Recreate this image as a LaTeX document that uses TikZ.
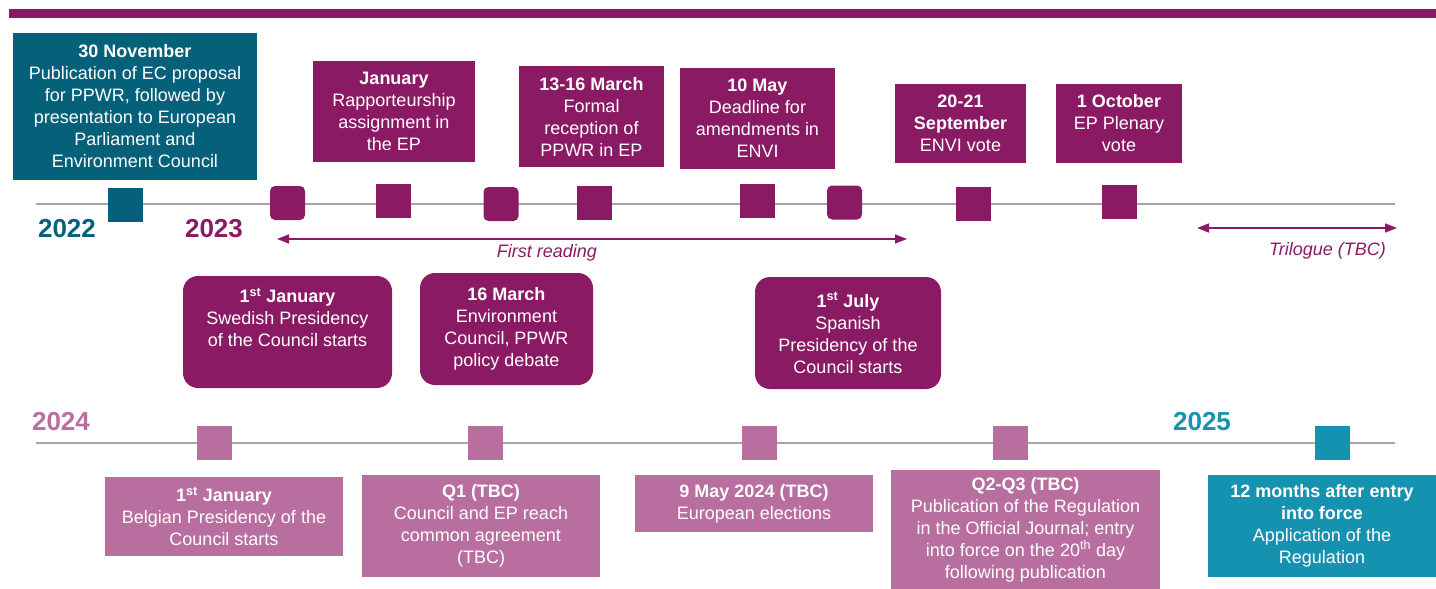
\documentclass[tikz,border=0pt]{standalone}
\usepackage{fontspec}
\setmainfont{Liberation Sans}
\usetikzlibrary{arrows.meta}
\definecolor{tealdark}{HTML}{05607A}
\definecolor{plum}{HTML}{8B1A65}
\definecolor{lplum}{HTML}{B86FA0}
\definecolor{teallight}{HTML}{1592B0}
\definecolor{axis}{HTML}{A6A6A6}
\tikzset{
  box/.style={rectangle, inner sep=0pt, text=white, align=center, font=\fontsize{18}{22}\selectfont},
  rbox/.style={box, rounded corners=15pt},
  mk/.style={rectangle, minimum width=35pt, minimum height=34pt, inner sep=0pt},
  rmk/.style={mk, rounded corners=5pt},
  tline/.style={draw=axis, line width=2pt},
  yr/.style={font=\fontsize{26}{30}\selectfont\bfseries, inner sep=0pt},
  arr/.style={draw=plum, line width=1.6pt, {Triangle[length=12pt,width=9pt]}-{Triangle[length=12pt,width=9pt]}},
  lbl/.style={font=\fontsize{18}{22}\selectfont\itshape, text=plum, inner sep=0pt},
}
\begin{document}
\begin{tikzpicture}[x=1pt,y=-1pt]
\useasboundingbox (0,0) rectangle (1436,589);
% top bar
\fill[plum] (9,9) rectangle (1436,17.5);
% timelines
\coordinate (t1a) at (36,204); \coordinate (t1b) at (1395,204);
\coordinate (t2a) at (36,443); \coordinate (t2b) at (1395,443);
\draw[tline] (t1a) -- (t1b);
\draw[tline] (t2a) -- (t2b);
% years
\node[yr, text=tealdark] (y22) at (67,229) {2022};
\node[yr, text=plum] (y23) at (214,229) {2023};
\node[yr, text=lplum] (y24) at (61,422) {2024};
\node[yr, text=teallight] (y25) at (1202,422) {2025};
% markers line 1
\node[mk, fill=tealdark] (m1) at (125.5,204.5) {};
\node[rmk, fill=plum] (m2) at (287.5,203) {};
\node[mk, fill=plum] (m3) at (393.5,200.5) {};
\node[rmk, fill=plum] (m4) at (501,204) {};
\node[mk, fill=plum] (m5) at (594.5,203) {};
\node[mk, fill=plum] (m6) at (757.5,200.5) {};
\node[rmk, fill=plum] (m7) at (844.5,202.5) {};
\node[mk, fill=plum] (m8) at (973,204) {};
\node[mk, fill=plum] (m9) at (1119.5,202) {};
% markers line 2
\node[mk, fill=lplum] (n1) at (214.5,443) {};
\node[mk, fill=lplum] (n2) at (485.5,443) {};
\node[mk, fill=lplum] (n3) at (759.5,443) {};
\node[mk, fill=lplum] (n4) at (1010.5,443) {};
\node[mk, fill=teallight] (n5) at (1332.5,443) {};
% top boxes
\node[box, fill=tealdark, minimum width=244pt, minimum height=147pt] (b1) at (135,106.5)
  {{\bfseries 30 November}\\Publication of EC proposal\\for PPWR, followed by\\presentation to European\\Parliament and\\Environment Council};
\node[box, fill=plum, minimum width=162pt, minimum height=101pt] (b2) at (394,111.5)
  {{\bfseries January}\\Rapporteurship\\assignment in\\the EP};
\node[box, fill=plum, minimum width=145pt, minimum height=101pt] (b3) at (591.5,116.5)
  {{\bfseries 13-16 March}\\Formal\\reception of\\PPWR in EP};
\node[box, fill=plum, minimum width=155pt, minimum height=101pt] (b4) at (757.5,118.5)
  {{\bfseries 10 May}\\Deadline for\\amendments in\\ENVI};
\node[box, fill=plum, minimum width=131pt, minimum height=79pt] (b5) at (960.5,123.5)
  {{\bfseries 20-21}\\{\bfseries September}\\ENVI vote};
\node[box, fill=plum, minimum width=126pt, minimum height=79pt] (b6) at (1119,123.5)
  {{\bfseries 1 October}\\EP Plenary\\vote};
% arrows
\coordinate (fra) at (277,239); \coordinate (frb) at (907,239);
\draw[arr] (fra) -- (frb);
\node[lbl] (frl) at (547,253) {First reading};
\coordinate (tra) at (1197,228); \coordinate (trb) at (1397,228);
\draw[arr] (tra) -- (trb);
\node[lbl, anchor=east] (trl) at (1386,251) {Trilogue (TBC)};
% middle rounded boxes
\node[rbox, fill=plum, minimum width=209pt, minimum height=112pt] (c1) at (287.5,332)
  {{\bfseries 1\textsuperscript{st} January}\\Swedish Presidency\\of the Council starts\\\strut};
\node[rbox, fill=plum, minimum width=173pt, minimum height=112pt] (c2) at (506.5,329)
  {{\bfseries 16 March}\\Environment\\Council, PPWR\\policy debate};
\node[rbox, fill=plum, minimum width=186pt, minimum height=112pt] (c3) at (848,333)
  {{\bfseries 1\textsuperscript{st} July}\\Spanish\\Presidency of the\\Council starts};
% bottom boxes
\node[box, fill=lplum, minimum width=238pt, minimum height=79pt] (d1) at (224,516.5)
  {{\bfseries 1\textsuperscript{st} January}\\Belgian Presidency of the\\Council starts};
\node[box, fill=lplum, minimum width=238pt, minimum height=102pt] (d2) at (481,526)
  {{\bfseries Q1 (TBC)}\\Council and EP reach\\common agreement\\(TBC)};
\node[box, fill=lplum, minimum width=238pt, minimum height=57pt] (d3) at (754,503.5)
  {{\bfseries 9 May 2024 (TBC)}\\European elections};
\node[box, fill=lplum, minimum width=269pt, minimum height=119pt] (d4) at (1025.5,529.5)
  {{\bfseries Q2-Q3 (TBC)}\\Publication of the Regulation\\in the Official Journal; entry\\into force on the 20\textsuperscript{th} day\\following publication};
\node[box, fill=teallight, minimum width=228pt, minimum height=102pt] (d5) at (1322,526)
  {{\bfseries 12 months after entry}\\{\bfseries into force}\\Application of the\\Regulation};
\end{tikzpicture}
\end{document}
